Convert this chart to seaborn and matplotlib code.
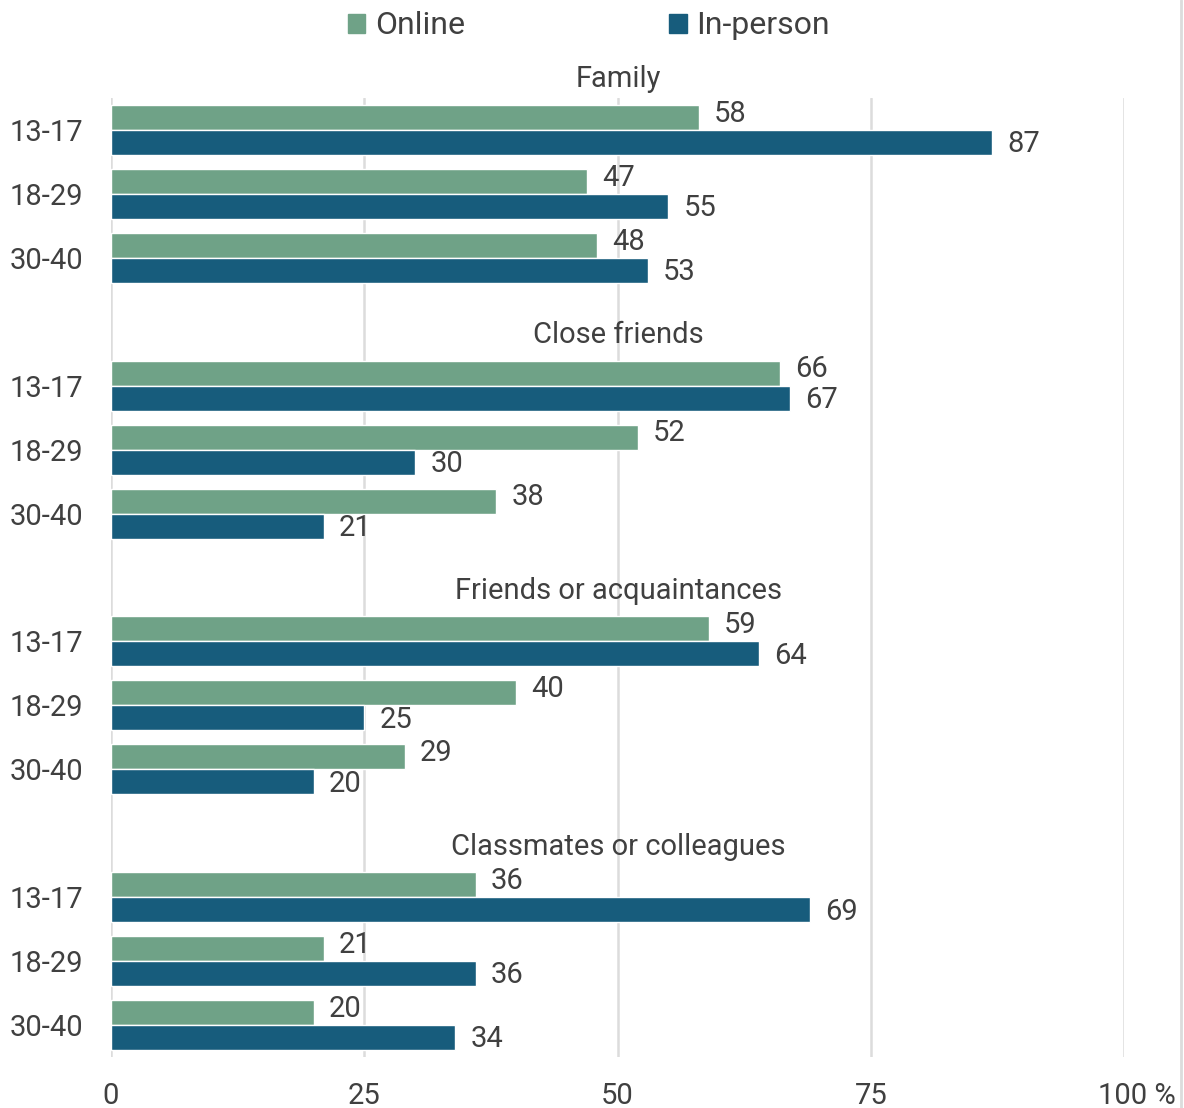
import matplotlib
matplotlib.use("Agg")
import matplotlib.pyplot as plt
import matplotlib.transforms as mtransforms
from matplotlib.lines import Line2D
import seaborn as sns
import pandas as pd

groups = ["Family", "Close friends", "Friends or acquaintances", "Classmates or colleagues"]
ages = ["13-17", "18-29", "30-40"]
series = ["Online", "In-person"]
online = [58, 47, 48, 66, 52, 38, 59, 40, 29, 36, 21, 20]
inperson = [87, 55, 53, 67, 30, 21, 64, 25, 20, 69, 36, 34]
xticks = [0, 25, 50, 75, 100]
xticklabels = ["0", "25", "50", "75", "100 %"]

GREEN = "#6fa287"
BLUE = "#175c7c"
TXT = "#404040"
GRID = "#dcdcdc"

sns.set_theme(style="white")
plt.rcParams["font.family"] = ["Roboto", "DejaVu Sans"]

rows = []
order = []
tick_pos = []
tick_text = []
for gi, g in enumerate(groups):
    order.append(f"title|{g}")
    for ai, a in enumerate(ages):
        key = f"{g}|{a}"
        order.append(key)
        tick_pos.append(len(order) - 1)
        tick_text.append(a)
        idx = gi * 3 + ai
        rows.append({"row": key, "series": "Online", "value": online[idx]})
        rows.append({"row": key, "series": "In-person", "value": inperson[idx]})
df = pd.DataFrame(rows)

fig = plt.figure(figsize=(11.84, 11.08), dpi=100)
ax = fig.add_axes([111 / 1184, 1 - 1057 / 1108, (1124 - 111) / 1184, (1057 - 98) / 1108])

sns.barplot(data=df, y="row", x="value", hue="series", order=order,
            hue_order=series, palette=[GREEN, BLUE], orient="h",
            width=0.78, saturation=1, ax=ax, legend=False, zorder=2)

FS = 21
ax.set_xticks(xticks)
ax.set_xticklabels(xticklabels)
ax.set_yticks(tick_pos)
ax.set_yticklabels(tick_text)
ax.set_xlim(0, 100)
ax.set_ylim(len(order) - 0.5, 0.5)
ax.tick_params(axis="both", length=0, labelsize=FS, labelcolor=TXT)
ax.tick_params(axis="x", pad=18)
ax.tick_params(axis="y", pad=20)
# shift the "100 %" label so "100" is centered on tick
xl = ax.get_xticklabels()
xl[-1].set_transform(xl[-1].get_transform() + mtransforms.ScaledTranslation(13 / 100, 0, fig.dpi_scale_trans))
ax.set_xlabel("")
ax.set_ylabel("")
for s in ax.spines.values():
    s.set_visible(False)
ax.xaxis.grid(True, color=GRID, linewidth=1.8, zorder=0)
ax.set_axisbelow(True)

# group titles
for gi, g in enumerate(groups):
    ax.text(50.1, gi * 4 + 0.21, g, ha="center", va="center", fontsize=FS,
            color=TXT, clip_on=False)

# value labels
for cont, dy in zip(ax.containers, [-0.06, 0.03]):
    for bar in cont:
        w = bar.get_width()
        if w != w or bar.get_height() == 0:
            continue
        yc = bar.get_y() + bar.get_height() / 2
        ax.annotate(f"{w:g}", (w, yc + dy), xytext=(11, 0), textcoords="offset points",
                    ha="left", va="center", fontsize=FS, color=TXT, clip_on=False)

handles = [plt.Rectangle((0, 0), 1, 1, color=GREEN), plt.Rectangle((0, 0), 1, 1, color=BLUE)]
fig.legend(handles, series, loc="center", bbox_to_anchor=(589 / 1184, 1 - 26 / 1108), ncol=2,
           frameon=False, fontsize=23, handlelength=0.55, handleheight=0.55,
           handletextpad=0.3, columnspacing=6.4, labelcolor=TXT)

fig.add_artist(Line2D([1181 / 1184, 1181 / 1184], [0, 1], color=GRID, linewidth=2,
                      transform=fig.transFigure))

fig.savefig("out.png", dpi=100)
